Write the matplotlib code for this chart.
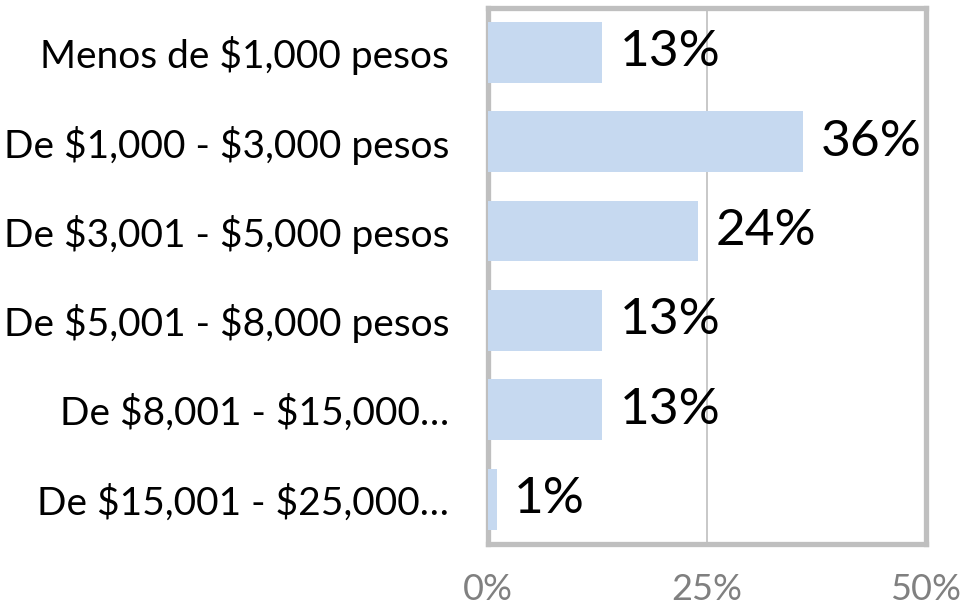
import matplotlib.pyplot as plt
import numpy as np

categories = [
    "Menos de $1,000 pesos",
    "De $1,000 - $3,000 pesos",
    "De $3,001 - $5,000 pesos",
    "De $5,001 - $8,000 pesos",
    "De $8,001 - $15,000…",
    "De $15,001 - $25,000…",
]
values = [13, 36, 24, 13, 13, 1]
x_ticks = [0, 25, 50]
x_tick_labels = ["0%", "25%", "50%"]

plt.rcParams["font.family"] = ["Lato", "DejaVu Sans"]

fig = plt.figure(figsize=(9.8, 6.13), dpi=100)
ax = fig.add_axes([488 / 980, 1 - 544 / 613, 438 / 980, 536.5 / 613])

y = np.arange(len(categories))
ax.barh(y, values, height=0.68, color="#c6d9f0", zorder=3)

# value labels next to each bar
for yi, v in zip(y, values):
    ax.text(v + 2.0, yi, f"{v}%", va="center", ha="left",
            fontsize=37, color="black", zorder=4)

ax.set_xlim(0, 50)
ax.set_ylim(len(categories) - 0.5, -0.5)
ax.set_yticks(y)
ax.set_yticklabels([c.replace("$", r"\$") for c in categories], fontsize=28)
ax.set_xticks(x_ticks)
ax.set_xticklabels(x_tick_labels, fontsize=26, color="#808080")
ax.tick_params(axis="y", length=0, pad=28)
ax.tick_params(axis="x", length=0, pad=21)

ax.xaxis.grid(True, color="#bfbfbf", linewidth=1.2, zorder=0)
ax.set_axisbelow(True)
for sp in ax.spines.values():
    sp.set_color("#bfbfbf")
    sp.set_linewidth(3.8)

plt.savefig("out.png", dpi=100)
plt.close()
